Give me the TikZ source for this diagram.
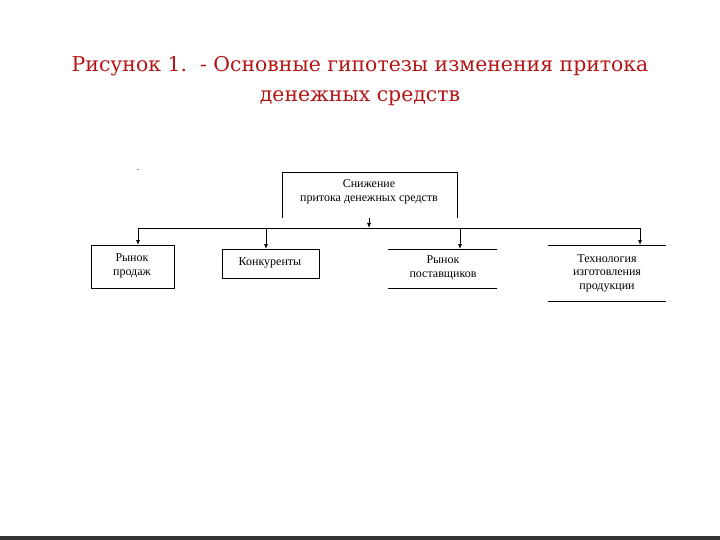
\documentclass[tikz,border=0pt]{standalone}
\usepackage{fontspec}
\setmainfont{Liberation Serif}
\newfontfamily\titlefont{DejaVu Serif}
\usetikzlibrary{arrows.meta}
\definecolor{ttl}{RGB}{180,20,20}
\begin{document}
\begin{tikzpicture}[x=1pt,y=-1pt,
  ln/.style={line width=0.8pt},
  arr/.style={ln,-{Latex[length=5pt,width=4pt]}},
  txt/.style={font=\fontsize{12}{13.5}\selectfont,align=center}]
\useasboundingbox (0,0) rectangle (720,540);
\fill[black!80] (0,536) rectangle (720,540);
\node[font=\titlefont\fontsize{20.4}{30}\selectfont,text=ttl,align=center] (title) at (360,81)
  {Рисунок 1.\ \ - Основные гипотезы изменения притока\\денежных средств};
\node[font=\fontsize{10}{10}\selectfont,inner sep=0pt] (dot) at (138,170) {.};
% top box
\draw[ln] (282,218) -- (282,172) -- (457,172) -- (457,218);
\node[txt] (top) at (369,192) {Снижение\\притока денежных средств};
\coordinate (tb) at (369,218);
\coordinate (bus) at (369,228);
\draw[arr] (tb) -- (bus);
\draw[ln] (138,228) -- (640,228);
% boxes
\draw[ln] (91,245) rectangle (174,288);
\node[txt] (b1) at (132,266) {Рынок\\продаж};
\draw[ln] (222,249) rectangle (319,278);
\node[txt] (b2) at (270,263) {Конкуренты};
\draw[ln] (388,249) -- (497,249) (388,288) -- (497,288);
\node[txt] (b3) at (443,268) {Рынок\\поставщиков};
\draw[ln] (548,245) -- (666,245) (548,301) -- (666,301);
\node[txt] (b4) at (607,273) {Технология\\изготовления\\продукции};
\coordinate (c1) at (138,228); \coordinate (c2) at (266,228);
\coordinate (c3) at (460,228); \coordinate (c4) at (640,228);
\draw[arr] (c1) -- (138,245);
\draw[arr] (c2) -- (266,249);
\draw[arr] (c3) -- (460,249);
\draw[arr] (c4) -- (640,245);
\end{tikzpicture}
\end{document}
